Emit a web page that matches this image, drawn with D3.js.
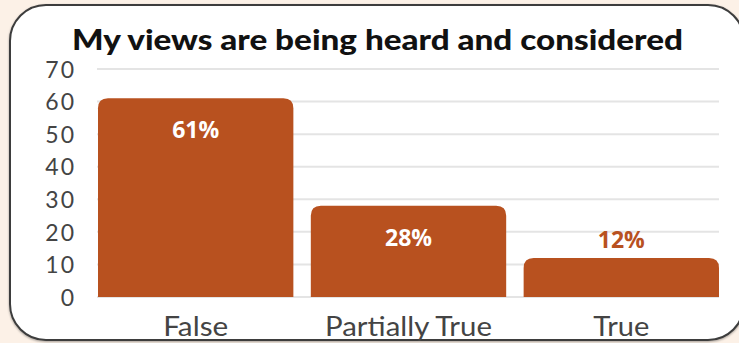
<!DOCTYPE html>
<html><head><meta charset="utf-8">
<script src="https://cdn.jsdelivr.net/npm/d3@7"></script>
<style>html,body{margin:0;padding:0;background:#fcf1e7;overflow:hidden}</style>
</head><body>
<script>
const title = "My views are being heard and considered";
const categories = ["False", "Partially True", "True"];
const values = [61, 28, 12];
const labels = ["61%", "28%", "12%"];
const yTicks = [0, 10, 20, 30, 40, 50, 60, 70];

const W = 739, H = 343;
const svg = d3.select("body").append("svg").attr("width", W).attr("height", H);
svg.append("rect").attr("width", W).attr("height", H).attr("fill", "#fcf1e7");

const defs = svg.append("defs");
const f = defs.append("filter").attr("id", "sh").attr("x", "-5%").attr("y", "-5%").attr("width", "110%").attr("height", "110%");
f.append("feDropShadow").attr("dx", 0).attr("dy", 1).attr("stdDeviation", 1).attr("flood-color", "#000").attr("flood-opacity", 0.35);

svg.append("rect").attr("x", 10).attr("y", 5).attr("width", 734).attr("height", 335)
  .attr("rx", 36).attr("ry", 36).attr("fill", "#fff").attr("stroke", "#3c3c3c").attr("stroke-width", 2)
  .attr("filter", "url(#sh)");

const x = d3.scaleBand().domain(categories).range([98, 719]).paddingInner(0.082).paddingOuter(0);
const y = d3.scaleLinear().domain([0, 70]).range([297, 69]);

// gridlines
svg.append("g").selectAll("line").data(yTicks).join("line")
  .attr("x1", 97).attr("x2", 719)
  .attr("y1", d => y(d)).attr("y2", d => y(d))
  .attr("stroke", "#e4e4e4").attr("stroke-width", 2);

// y axis labels
const yAxis = d3.axisLeft(y).tickValues(yTicks).tickSize(0).tickPadding(0);
const gy = svg.append("g").attr("transform", "translate(76,0)").call(yAxis);
gy.select(".domain").remove();
gy.selectAll("text").attr("font-family", "Lato, sans-serif").attr("font-size", 23)
  .attr("letter-spacing", 2).attr("fill", "#444").attr("dy", "0.36em");

// bars with rounded top corners
const r = 10;
function barPath(d, i) {
  const x0 = x(categories[i]), w = x.bandwidth(), y0 = y(d), y1 = y(0);
  return `M${x0},${y1}V${y0 + r}Q${x0},${y0} ${x0 + r},${y0}H${x0 + w - r}Q${x0 + w},${y0} ${x0 + w},${y0 + r}V${y1}Z`;
}
svg.append("g").selectAll("path").data(values).join("path")
  .attr("d", barPath).attr("fill", "#b8511f");

// value labels
svg.append("g").selectAll("text").data(values).join("text")
  .attr("x", (d, i) => x(categories[i]) + x.bandwidth() / 2)
  .attr("y", (d, i) => d > 20 ? Math.min(y(d) + 40, 248) : 248)
  .attr("text-anchor", "middle")
  .attr("font-family", "'Open Sans', sans-serif").attr("font-weight", 700).attr("font-size", 23)
  .attr("fill", d => d > 20 ? "#fff" : "#b8511f")
  .text((d, i) => labels[i]);

// x axis labels
const catWidths = [65, 167, 56];
const xAxis = d3.axisBottom(x).tickSize(0).tickPadding(0);
const gx = svg.append("g").attr("transform", "translate(0,336)").call(xAxis);
gx.select(".domain").remove();
gx.selectAll("text").attr("font-family", "Lato, sans-serif").attr("font-size", 26)
  .attr("fill", "#444").attr("dy", 0)
  .attr("textLength", (d, i) => catWidths[i]).attr("lengthAdjust", "spacingAndGlyphs");

// title
svg.append("text").attr("x", 377.5).attr("y", 50).attr("text-anchor", "middle")
  .attr("font-family", "Lato, sans-serif").attr("font-weight", 900).attr("font-size", 29)
  .attr("fill", "#111").attr("textLength", 611).attr("lengthAdjust", "spacingAndGlyphs")
  .text(title);
</script>
</body></html>
